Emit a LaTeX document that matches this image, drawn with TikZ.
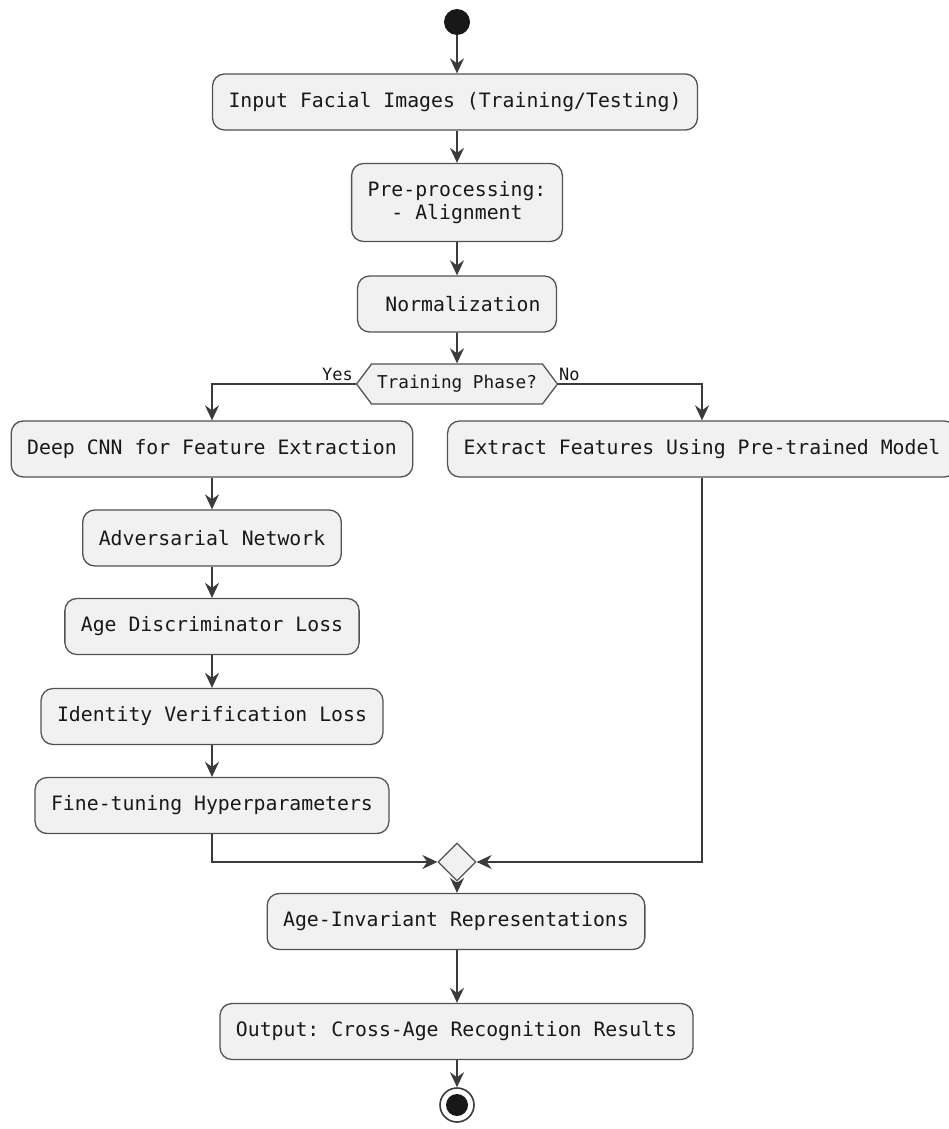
\documentclass[tikz,border=0pt]{standalone}
\usepackage{fontspec}
\setmonofont{DejaVu Sans Mono}
\usetikzlibrary{arrows.meta,shapes.geometric,shapes.symbols}
\definecolor{actfill}{HTML}{F1F1F1}
\definecolor{actline}{HTML}{181818}
\begin{document}
\begin{tikzpicture}[x=1pt,y=-1pt]
    \tikzstyle{action}=[draw=actline!75, fill=actfill, rounded corners=12pt, line width=1.3pt, minimum height=56pt, inner xsep=16pt, align=center, text=actline, font=\ttfamily\fontsize{19.8}{23.5}\selectfont]
    \tikzstyle{flow}=[draw=actline!85, line width=1.9pt, -{Stealth[length=15pt,width=14pt,inset=5pt]}]
    \tikzstyle{guard}=[inner sep=0pt, text=actline, font=\ttfamily\fontsize{17}{20}\selectfont]
    \useasboundingbox (0,0) rectangle (948,1129);
    \node[circle, fill=actline, minimum size=26pt, inner sep=0pt] (start) at (457,22) {};
    \node[action] (input) at (455,102) {Input Facial Images (Training/Testing)};
    \node[action, minimum height=78pt] (pre) at (457,202.5) {Pre-processing:\\- Alignment};
    \node[action] (norm) at (457,304) {\ Normalization};
    \node[signal, signal to=west and east, signal pointer angle=106, draw=actline!75, fill=actfill, line width=1.3pt, minimum width=201pt, minimum height=40pt, inner sep=0pt, text=actline, font=\ttfamily\fontsize{17.7}{20}\selectfont] (phase) at (457,384) {Training Phase?};
    \node[guard, anchor=base east] (yes) at (353,380) {Yes};
    \node[guard, anchor=base west] (no) at (559,380) {No};
    \node[action] (deep) at (212,449) {Deep CNN for Feature Extraction};
    \node[action] (extract) at (702,449) {Extract Features Using Pre-trained Model};
    \node[action] (adv) at (212,538) {Adversarial Network};
    \node[action] (age) at (212,626.5) {Age Discriminator Loss};
    \node[action] (ident) at (212,716.5) {Identity Verification Loss};
    \node[action] (fine) at (212,805.5) {Fine-tuning Hyperparameters};
    \node[diamond, draw=actline!75, fill=actfill, line width=1.3pt, minimum size=38pt, inner sep=0pt] (merge) at (457,862) {};
    \node[action] (inv) at (456,921.5) {Age-Invariant Representations};
    \node[action] (out) at (456.5,1031.5) {Output: Cross-Age Recognition Results};
    \node[circle, draw=actline!85, fill=white, line width=1.6pt, minimum size=34pt, inner sep=0pt] (end) at (457,1105) {};
    \fill[actline] (end) circle (11pt);

    \draw[flow] (start) -- (start |- input.north);
    \draw[flow] (input.south -| pre) -- (pre);
    \draw[flow] (pre) -- (norm);
    \draw[flow] (norm) -- (phase);
    \draw[flow] (phase.west) -| (deep.north);
    \draw[flow] (phase.east) -| (extract.north);
    \draw[flow] (deep) -- (adv);
    \draw[flow] (adv) -- (age);
    \draw[flow] (age) -- (ident);
    \draw[flow] (ident) -- (fine);
    \draw[flow] (fine.south) |- (merge.west);
    \draw[flow] (extract.south) |- (merge.east);
    \draw[flow] (merge) -- (merge |- inv.north);
    \draw[flow] (inv.south -| end) -- (out.north -| end);
    \draw[flow] (out.south -| end) -- (end);
  \end{tikzpicture}
\end{document}
